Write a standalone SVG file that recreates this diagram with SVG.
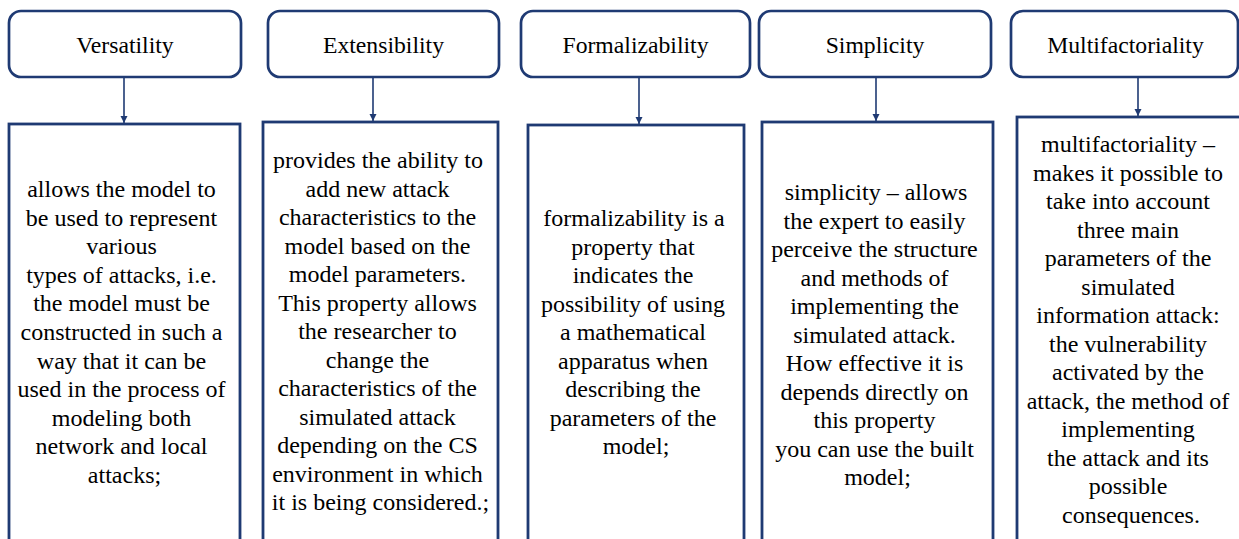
<svg xmlns="http://www.w3.org/2000/svg" width="1239" height="539" viewBox="0 0 1239 539">
<style>
.hd{fill:#fff;stroke:#1F3A73;stroke-width:2.7}
.bd{fill:#fff;stroke:#1F3A73;stroke-width:2.8}
.c{stroke:#1F3A73;stroke-width:1.6;fill:none}
.t{font-family:"Liberation Serif","Times New Roman",serif;font-size:23.7px;fill:#000;text-anchor:middle}
.b{font-family:"Liberation Serif","Times New Roman",serif;font-size:24px;fill:#000;text-anchor:middle}
</style>
<defs>
<marker id="ah" markerWidth="8" markerHeight="8" refX="7" refY="4" orient="auto" markerUnits="userSpaceOnUse">
<path d="M0,0.5 L7,4 L0,7.5 Z" fill="#1F3A73"/>
</marker>
</defs>
<rect width="1239" height="539" fill="#fff"/>
<g id="connectors">
<line class="c" x1="124" y1="77" x2="124" y2="123" marker-end="url(#ah)"/>
<line class="c" x1="373" y1="77" x2="373" y2="121" marker-end="url(#ah)"/>
<line class="c" x1="639" y1="77" x2="639" y2="124" marker-end="url(#ah)"/>
<line class="c" x1="876" y1="77" x2="876" y2="121" marker-end="url(#ah)"/>
<line class="c" x1="1138" y1="77" x2="1138" y2="116" marker-end="url(#ah)"/>
</g>
<g id="versatility">
<rect class="hd" x="9" y="11" width="232" height="66" rx="12"/>
<text class="t" x="125" y="53">Versatility</text>
</g>
<g id="extensibility">
<rect class="hd" x="268" y="11" width="231" height="66" rx="12"/>
<text class="t" x="383.5" y="53">Extensibility</text>
</g>
<g id="formalizability">
<rect class="hd" x="521" y="11" width="229" height="66" rx="12"/>
<text class="t" x="635.5" y="53">Formalizability</text>
</g>
<g id="simplicity">
<rect class="hd" x="759" y="11" width="232" height="66" rx="12"/>
<text class="t" x="875" y="53">Simplicity</text>
</g>
<g id="multifactoriality">
<rect class="hd" x="1011" y="11" width="227" height="66" rx="12"/>
<text class="t" x="1125.5" y="53">Multifactoriality</text>
</g>
<g id="versatility-desc">
<rect class="bd" x="9" y="124" width="231" height="440"/>
<text class="b">
<tspan x="124.5" y="197">allows the model to</tspan>
<tspan x="124.5" y="225.6">be used to represent</tspan>
<tspan x="124.5" y="254.2">various</tspan>
<tspan x="124.5" y="282.8">types of attacks, i.e.</tspan>
<tspan x="124.5" y="311.4">the model must be</tspan>
<tspan x="124.5" y="340">constructed in such a</tspan>
<tspan x="124.5" y="368.6">way that it can be</tspan>
<tspan x="124.5" y="397.2">used in the process of</tspan>
<tspan x="124.5" y="425.8">modeling both</tspan>
<tspan x="124.5" y="454.4">network and local</tspan>
<tspan x="124.5" y="483">attacks;</tspan>
</text>
</g>
<g id="extensibility-desc">
<rect class="bd" x="263" y="122" width="235" height="440"/>
<text class="b">
<tspan x="381" y="168">provides the ability to</tspan>
<tspan x="380.5" y="196.5">add new attack</tspan>
<tspan x="380.5" y="225">characteristics to the</tspan>
<tspan x="380.5" y="253.5">model based on the</tspan>
<tspan x="380.5" y="282">model parameters.</tspan>
<tspan x="380.5" y="310.5">This property allows</tspan>
<tspan x="380.5" y="339">the researcher to</tspan>
<tspan x="380.5" y="367.5">change the</tspan>
<tspan x="380.5" y="396">characteristics of the</tspan>
<tspan x="380.5" y="424.5">simulated attack</tspan>
<tspan x="380.5" y="453">depending on the CS</tspan>
<tspan x="380.5" y="481.5">environment in which</tspan>
<tspan x="380.5" y="510">it is being considered.;</tspan>
</text>
</g>
<g id="formalizability-desc">
<rect class="bd" x="528" y="125" width="216" height="440"/>
<text class="b">
<tspan x="637" y="226">formalizability is a</tspan>
<tspan x="636" y="254.5">property that</tspan>
<tspan x="636" y="283">indicates the</tspan>
<tspan x="636" y="311.5">possibility of using</tspan>
<tspan x="636" y="340">a mathematical</tspan>
<tspan x="636" y="368.5">apparatus when</tspan>
<tspan x="636" y="397">describing the</tspan>
<tspan x="636" y="425.5">parameters of the</tspan>
<tspan x="636" y="454">model;</tspan>
</text>
</g>
<g id="simplicity-desc">
<rect class="bd" x="762" y="122" width="231" height="440"/>
<text class="b">
<tspan x="879" y="200">simplicity – allows</tspan>
<tspan x="877.5" y="228.5">the expert to easily</tspan>
<tspan x="877.5" y="257">perceive the structure</tspan>
<tspan x="877.5" y="285.5">and methods of</tspan>
<tspan x="877.5" y="314">implementing the</tspan>
<tspan x="877.5" y="342.5">simulated attack.</tspan>
<tspan x="877.5" y="371">How effective it is</tspan>
<tspan x="877.5" y="399.5">depends directly on</tspan>
<tspan x="877.5" y="428">this property</tspan>
<tspan x="877.5" y="456.5">you can use the built</tspan>
<tspan x="877.5" y="485">model;</tspan>
</text>
</g>
<g id="multifactoriality-desc">
<rect class="bd" x="1017" y="117" width="228" height="440"/>
<text class="b">
<tspan x="1131" y="152">multifactoriality –</tspan>
<tspan x="1131" y="180.5">makes it possible to</tspan>
<tspan x="1131" y="209">take into account</tspan>
<tspan x="1131" y="237.5">three main</tspan>
<tspan x="1131" y="266">parameters of the</tspan>
<tspan x="1131" y="294.5">simulated</tspan>
<tspan x="1131" y="323">information attack:</tspan>
<tspan x="1131" y="351.5">the vulnerability</tspan>
<tspan x="1131" y="380">activated by the</tspan>
<tspan x="1131" y="408.5">attack, the method of</tspan>
<tspan x="1131" y="437">implementing</tspan>
<tspan x="1131" y="465.5">the attack and its</tspan>
<tspan x="1131" y="494">possible</tspan>
<tspan x="1131" y="522.5">consequences.</tspan>
</text>
</g>
</svg>
